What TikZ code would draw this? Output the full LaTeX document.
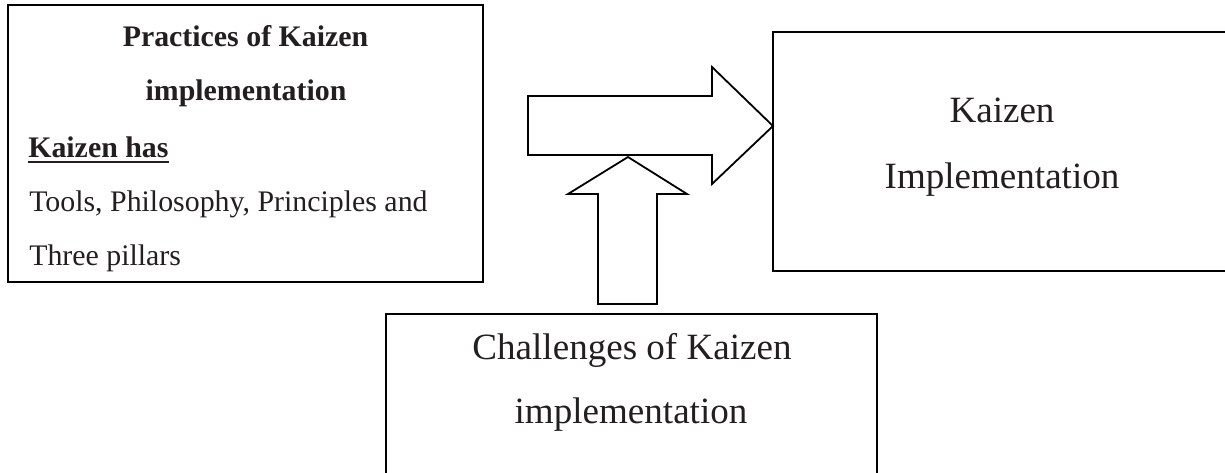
\documentclass[tikz,border=0pt]{standalone}
\usepackage{fontspec}
\setmainfont{Liberation Serif}
\definecolor{ink}{RGB}{35,31,32}
\begin{document}
\begin{tikzpicture}[x=0.75pt,y=-0.75pt,
  box/.style={draw=black,line width=1.35pt,rectangle,inner sep=0pt},
  blockarrow/.style={draw=black,line width=1.35pt,fill=white,line join=miter},
  small/.style={inner sep=0pt,text=ink,font=\fontsize{22.4pt}{26pt}\selectfont},
  large/.style={inner sep=0pt,text=ink,font=\fontsize{27.8pt}{32pt}\selectfont}]
\useasboundingbox (0,0) rectangle (1225,472);
\clip (0,0) rectangle (1225,472);
% boxes
\node[box,minimum width=356.25pt,minimum height=207.75pt] (practices) at (245.5,143.5) {};
\node[box,minimum width=350.25pt,minimum height=179.25pt] (impl) at (1006.5,151.5) {};
\node[box,minimum width=368.25pt,minimum height=132pt] (chall) at (631.5,402) {};
% block arrows
\draw[blockarrow] (528,96) -- (712,96) -- (712,67) -- (773,126) -- (712,184) -- (712,155) -- (528,155) -- cycle;
\draw[blockarrow] (598,304) -- (598,194) -- (568,194) -- (628,157) -- (687,194) -- (657,194) -- (657,304) -- cycle;
% texts: left box
\node[small,font=\fontsize{22.4pt}{26pt}\selectfont\bfseries,anchor=base] (p1) at (245.5,46) {Practices of Kaizen};
\node[small,font=\fontsize{22.4pt}{26pt}\selectfont\bfseries,anchor=base] (p2) at (246,100) {implementation};
\node[small,font=\fontsize{22.4pt}{26pt}\selectfont\bfseries,anchor=base west] (kh) at (28,157) {Kaizen has};
\draw[ink,line width=1.5pt] ([yshift=-3.8pt]kh.base west) -- ([yshift=-3.8pt]kh.base east);
\node[small,anchor=base west] (p3) at (29,211) {Tools, Philosophy, Principles and};
\node[small,anchor=base west] (p4) at (29,265) {Three pillars};
% right box
\node[large,anchor=base] (k1) at (1002,122) {Kaizen};
\node[large,anchor=base] (k2) at (1002,188) {Implementation};
% bottom box
\node[large,anchor=base] (c1) at (632,359) {Challenges of Kaizen};
\node[large,anchor=base] (c2) at (631,423) {implementation};
\end{tikzpicture}
\end{document}
